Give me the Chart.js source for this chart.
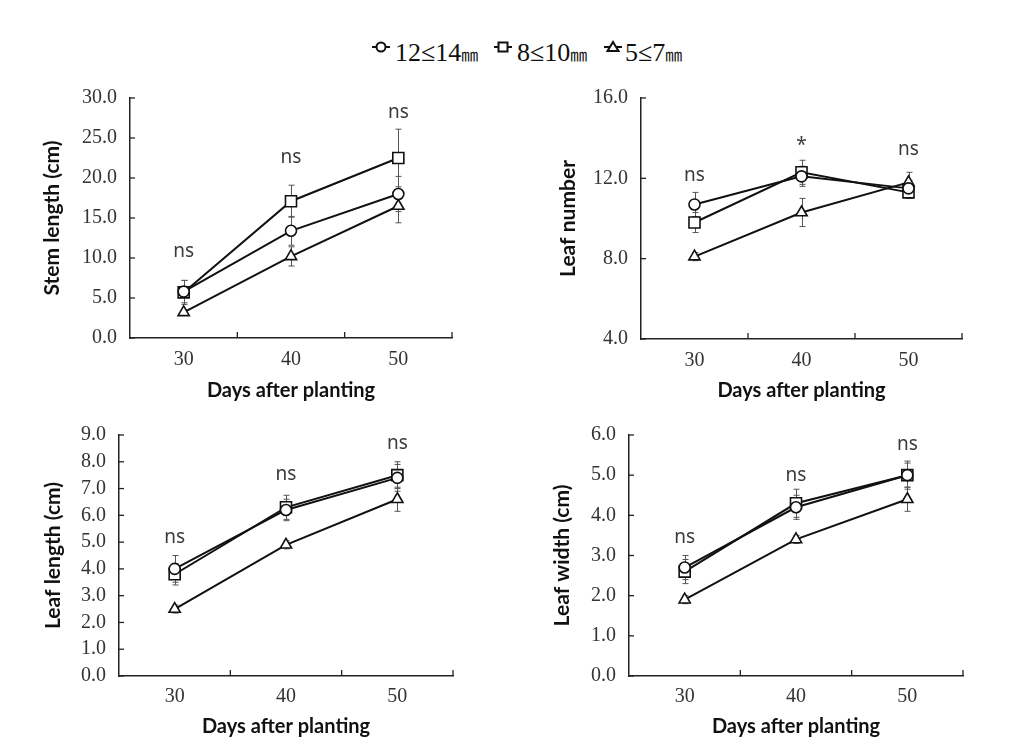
<!DOCTYPE html>
<html><head><meta charset="utf-8">
<script src="https://cdn.jsdelivr.net/npm/chart.js@4/dist/chart.umd.min.js"></script>
<style>
html,body{margin:0;padding:0;background:#fff;width:1021px;height:744px;overflow:hidden;position:relative;}
.pn{position:absolute;}
canvas{display:block;}
.lt{position:absolute;font-family:"Liberation Serif",serif;font-size:26px;line-height:30px;color:#111;white-space:nowrap;}
.mm{font-family:"Noto Sans CJK KR","Noto Sans CJK SC",sans-serif;font-size:17px;}
#lg{position:absolute;left:0;top:0;}
</style></head><body>
<svg id="lg" width="1021" height="80"></svg>
<div id="legend"></div>
<div class="pn" style="left:10px;top:73px;width:450px;height:337px"><canvas id="c1" width="450" height="337"></canvas></div>
<div class="pn" style="left:520px;top:73px;width:450px;height:337px"><canvas id="c2" width="450" height="337"></canvas></div>
<div class="pn" style="left:10px;top:410px;width:450px;height:334px"><canvas id="c3" width="450" height="334"></canvas></div>
<div class="pn" style="left:520px;top:410px;width:450px;height:334px"><canvas id="c4" width="450" height="334"></canvas></div>
<script>
// ---------- DATA ----------
const days = ['30', '40', '50'];
const seriesNames = ['12≤14㎜', '8≤10㎜', '5≤7㎜'];
const xTitle = 'Days after planting';

// Stem length (cm)
const stemLarge = [5.8, 13.4, 18.0];
const stemMid   = [5.7, 17.1, 22.5];
const stemSmall = [3.2, 10.2, 16.5];
const stemLargeErr = [1.4, 1.8, 2.2];
const stemMidErr   = [1.5, 2.0, 3.6];
const stemSmallErr = [0.3, 1.2, 2.1];
const stemSig = ['ns', 'ns', 'ns'];
const stemSigAt = [10.8, 22.5, 28.1];
const stemTicks = [0, 30, 5];

// Leaf number
const numLarge = [10.7, 12.1, 11.5];
const numMid   = [9.8, 12.3, 11.3];
const numSmall = [8.1, 10.3, 11.8];
const numLargeErr = [0.6, 0.5, 0.4];
const numMidErr   = [0.5, 0.6, 0.3];
const numSmallErr = [0.2, 0.7, 0.5];
const numSig = ['ns', '*', 'ns'];
const numSigAt = [12.1, 13.6, 13.4];
const numTicks = [4, 16, 4];

// Leaf length (cm)
const lenLarge = [4.0, 6.2, 7.4];
const lenMid   = [3.8, 6.3, 7.5];
const lenSmall = [2.5, 4.9, 6.6];
const lenLargeErr = [0.5, 0.4, 0.5];
const lenMidErr   = [0.4, 0.45, 0.5];
const lenSmallErr = [0.15, 0.15, 0.45];
const lenSig = ['ns', 'ns', 'ns'];
const lenSigAt = [5.15, 7.5, 8.65];
const lenTicks = [0, 9, 1];

// Leaf width (cm)
const widLarge = [2.7, 4.2, 5.0];
const widMid   = [2.6, 4.3, 5.0];
const widSmall = [1.9, 3.4, 4.4];
const widLargeErr = [0.3, 0.3, 0.3];
const widMidErr   = [0.3, 0.35, 0.35];
const widSmallErr = [0.1, 0.1, 0.3];
const widSig = ['ns', 'ns', 'ns'];
const widSigAt = [3.43, 4.98, 5.75];
const widTicks = [0, 6, 1];

// ---------- STYLE ----------
const markers = [
  {style: 'circle', r: 5.5},
  {style: 'rect', r: 7.8},
  {style: 'triangle', r: 6.5}
];

const overlay = {
  id: 'overlay',
  beforeDatasetsDraw(chart) {
    const ctx = chart.ctx, x = chart.scales.x, y = chart.scales.y;
    ctx.save();
    ctx.strokeStyle = '#555'; ctx.lineWidth = 1;
    chart.data.datasets.forEach(ds => {
      ds.errors.forEach((e, i) => {
        const px = Math.round(x.getPixelForValue(i)) + 0.5, v = ds.data[i];
        const t = y.getPixelForValue(v + e), b = y.getPixelForValue(v - e);
        ctx.beginPath();
        ctx.moveTo(px, t); ctx.lineTo(px, b);
        ctx.moveTo(px - 3, t); ctx.lineTo(px + 3, t);
        ctx.moveTo(px - 3, b); ctx.lineTo(px + 3, b);
        ctx.stroke();
      });
    });
    ctx.restore();
  },
  afterDraw(chart) {
    const ctx = chart.ctx, a = chart.chartArea, x = chart.scales.x, y = chart.scales.y;
    const o = chart.options.plugins.overlay;
    ctx.save();
    ctx.strokeStyle = '#222'; ctx.lineWidth = 1.3;
    y.ticks.forEach((t, i) => {
      const py = y.getPixelForTick(i);
      ctx.beginPath(); ctx.moveTo(a.left, py); ctx.lineTo(a.left + 5, py); ctx.stroke();
    });
    for (let k = 0; k < x.ticks.length; k++) {
      const px = x.getPixelForValue(k + 0.5);
      ctx.beginPath(); ctx.moveTo(px, a.bottom); ctx.lineTo(px, a.bottom - 6); ctx.stroke();
    }
    ctx.fillStyle = '#3a3a3a';
    ctx.font = '19px "Noto Sans"';
    ctx.textAlign = 'center'; ctx.textBaseline = 'alphabetic';
    o.labels.forEach((s, i) => {
      ctx.fillText(s, x.getPixelForValue(i), y.getPixelForValue(o.heights[i]) + 5);
    });
    ctx.restore();
  }
};

function makePanel(id, yTitle, values, errors, sig, sigAt, ticks, L) {
  const datasets = values.map((vals, k) => ({
    label: seriesNames[k],
    data: vals,
    errors: errors[k],
    borderColor: '#111',
    borderWidth: 2,
    pointStyle: markers[k].style,
    pointRadius: markers[k].r,
    pointBackgroundColor: '#fff',
    pointBorderColor: '#111',
    pointBorderWidth: 1.6,
    tension: 0
  }));
  new Chart(document.getElementById(id), {
    type: 'line',
    data: {labels: days, datasets},
    plugins: [overlay],
    options: {
      responsive: false,
      animation: false,
      layout: {autoPadding: false, padding: {left: 0, top: 25, right: L.pr, bottom: 0}},
      plugins: {
        legend: {display: false},
        tooltip: {enabled: false},
        overlay: {labels: sig, heights: sigAt}
      },
      scales: {
        x: {
          type: 'category',
          offset: true,
          grid: {display: false, drawTicks: false, offset: true},
          border: {display: true, color: '#222', width: 1.5},
          ticks: {color: '#333', font: {family: '"Liberation Serif"', size: 20}, padding: L.xpad},
          title: {display: true, text: xTitle, color: '#111',
                  font: {family: 'Lato', size: 20, weight: 'bold'},
                  padding: {top: 0, bottom: L.xtp}},
          afterFit: s => { s.height = L.xh; }
        },
        y: {
          min: ticks[0], max: ticks[1],
          grid: {display: false, drawTicks: false},
          border: {display: true, color: '#222', width: 1.5},
          ticks: {stepSize: ticks[2], autoSkip: false, color: '#333', padding: 13,
                  font: {family: '"Liberation Serif"', size: 20},
                  callback: v => Number(v).toFixed(1)},
          title: {display: true, text: yTitle, color: '#111',
                  font: {family: 'Lato', size: 21, weight: 'bold'},
                  padding: {top: L.ytp, bottom: 0}},
          afterFit: s => { s.width = L.yw; }
        }
      }
    }
  });
}

makePanel('c1', 'Stem length (cm)', [stemLarge, stemMid, stemSmall],
  [stemLargeErr, stemMidErr, stemSmallErr], stemSig, stemSigAt, stemTicks,
  {pr: 8, yw: 120, xh: 72, ytp: 29.4, xtp: 7, xpad: 10});
makePanel('c2', 'Leaf number', [numLarge, numMid, numSmall],
  [numLargeErr, numMidErr, numSmallErr], numSig, numSigAt, numTicks,
  {pr: 8, yw: 121, xh: 71, ytp: 35.4, xtp: 7, xpad: 10});
makePanel('c3', 'Leaf length (cm)', [lenLarge, lenMid, lenSmall],
  [lenLargeErr, lenMidErr, lenSmallErr], lenSig, lenSigAt, lenTicks,
  {pr: 7, yw: 109, xh: 68, ytp: 30.4, xtp: 5, xpad: 9});
makePanel('c4', 'Leaf width (cm)', [widLarge, widMid, widSmall],
  [widLargeErr, widMidErr, widSmallErr], widSig, widSigAt, widTicks,
  {pr: 7, yw: 109, xh: 68, ytp: 29.4, xtp: 5, xpad: 9});

// ---------- LEGEND ----------
const legendPos = [{m: 381, t: 395}, {m: 503, t: 517}, {m: 613, t: 625}];
const svg = document.getElementById('lg');
const ns = 'http://www.w3.org/2000/svg';
const my = 47;
function el(tag, attrs) {
  const e = document.createElementNS(ns, tag);
  for (const k in attrs) e.setAttribute(k, attrs[k]);
  svg.appendChild(e); return e;
}
const leg = document.getElementById('legend');
seriesNames.forEach((name, k) => {
  const p = legendPos[k];
  el('line', {x1: p.m - 9, x2: p.m + 9, y1: my, y2: my, stroke: '#111', 'stroke-width': 2});
  const st = {fill: '#fff', stroke: '#111', 'stroke-width': 2};
  if (markers[k].style === 'circle') el('circle', Object.assign({cx: p.m, cy: my, r: 4.5}, st));
  else if (markers[k].style === 'rect') el('rect', Object.assign({x: p.m - 4.5, y: my - 4.5, width: 9, height: 9}, st));
  else el('polygon', Object.assign({points: `${p.m},${my - 5} ${p.m + 5.5},${my + 4} ${p.m - 5.5},${my + 4}`}, st));
  const d = document.createElement('div');
  d.className = 'lt';
  d.style.left = p.t + 'px';
  d.style.top = '38px';
  d.innerHTML = name.replace('㎜', '<span class="mm">㎜</span>');
  leg.appendChild(d);
});
</script>
</body></html>
